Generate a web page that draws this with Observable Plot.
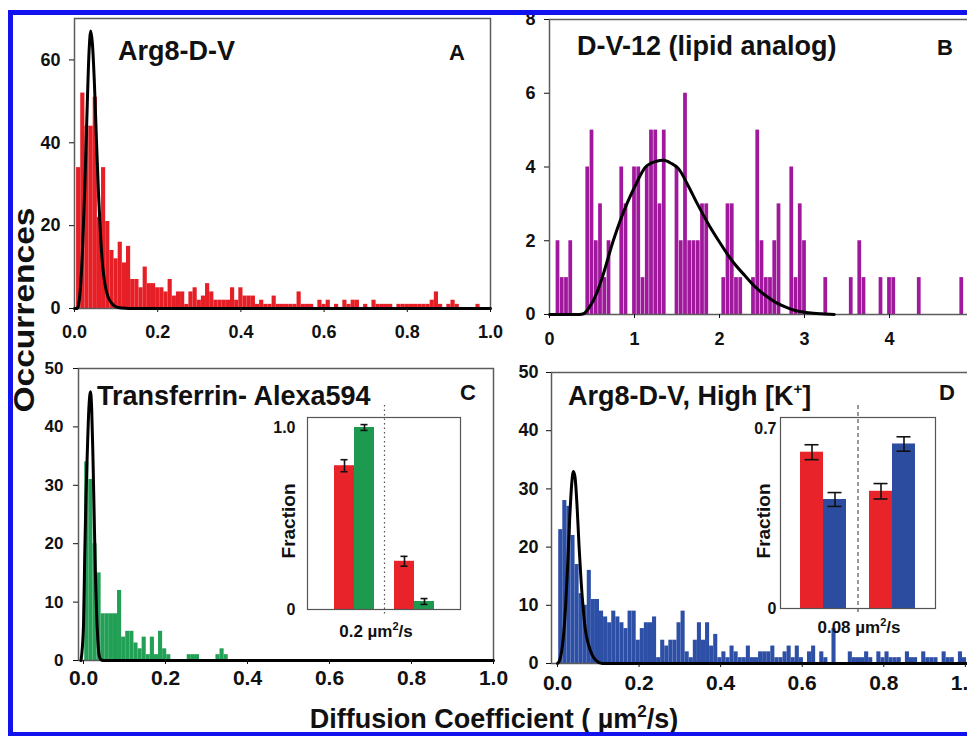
<!DOCTYPE html>
<html><head><meta charset="utf-8">
<script src="https://cdn.jsdelivr.net/npm/d3@7"></script>
<script src="https://cdn.jsdelivr.net/npm/@observablehq/plot@0.6"></script>
<style>
html,body{margin:0;padding:0;width:967px;height:736px;overflow:hidden;background:#fff;}
#root{position:relative;width:967px;height:736px;overflow:hidden;background:#fff;}
</style></head><body><div id="root"></div>
<script>
const FONT = '"Liberation Sans", Arial, Helvetica, sans-serif';

// ---------- Panel A: Arg8-D-V (bins of 0.01 µm²/s) ----------
const binWidthA = 0.01, firstBinA = 0.005;
const countsA = [34,52,44,44,51,22,34,21,14,12, 16,11,15,7,7,5,10,6,6,5, 5,4,7,3,4,4,1,4,5,2,
  3,6,4,2,2,2,2,5,2,5, 3,3,3,1,2,1,1,3,1,1, 1,1,1,4,1,1,1,0,2,1, 2,0,1,0,2,1,2,2,0,1,
  0,2,1,1,1,1,0,1,1,1, 1,1,1,1,1,2,4,1,0,1, 2,1,0,0,0,0,1,0,0,0];
const fitAx = [0,0.006,0.01,0.015,0.02,0.025,0.03,0.035,0.039,0.043,0.048,0.053,0.058,0.063,0.068,0.073,0.08,0.09,0.1,0.115,0.13,1.0];
const fitAy = [0,0,1,6,16,30,47,62,67,64,54,40,27,17,10,6,3,1.2,0.4,0.1,0,0];

// ---------- Panel B: D-V-12 (lipid analog) (bins of 0.05, centred) ----------
const binWidthB = 0.05, firstBinB = -0.025;
const countsB = [0,0,2,1,1,2,0,0,0,4, 5,2,3,1,2,0,0,4,3,0, 4,4,1,4,5,5,3,5,0,0,
  4,2,6,2,2,2,3,3,0,0, 0,1,3,3,1,1,0,0,1,5, 2,1,1,2,3,0,0,4,1,3, 2,0,0,0,0,1,0,0,0,0,
  0,1,0,2,1,0,0,0,1,0, 1,1,0,0,0,0,0,1,0,0, 0,0,0,0,0,0,0,1,0,0];
const fitBx = [0,0.35,0.4,0.47,0.55,0.62,0.75,0.91,1.0,1.13,1.25,1.34,1.43,1.52,1.63,1.74,1.87,1.99,2.15,2.3,2.42,2.55,2.66,2.78,2.89,3.05,3.2,3.35];
const fitBy = [0,0,0.02,0.2,0.55,1.0,2.0,3.0,3.45,4.0,4.15,4.18,4.1,3.95,3.5,3.0,2.45,2.0,1.45,1.05,0.75,0.5,0.33,0.2,0.11,0.05,0.02,0];

// ---------- Panel C: Transferrin-Alexa594 ----------
const binWidthC = 0.01, firstBinC = 0.003;
const countsC = [34,31,20,15,8,8,8,8,12,4, 5,5,3,2,4,1,4,1,5,2, 1,0,0,0,0,1,1,1,0,0, 0,0,1,2,1];
const fitCx = [-0.006,0,0.003,0.006,0.009,0.013,0.017,0.02,0.023,0.026,0.029,0.032,0.035,0.038,0.042,0.048,1.0];
const fitCy = [0,6,18,28,35,43,46,43,35,25,15,8,3.5,1,0.2,0,0];

// ---------- Panel D: Arg8-D-V, High [K+] ----------
const binWidthD = 0.01, firstBinD = 0.003;
const countsD = [23,28,27,22,17,12,10,16,11,11, 9,8,7,9,8,7,6,9,9,4, 6,7,7,8,1,4,3,4,4,7,
  9,2,1,4,7,4,7,3,5,1, 2,1,3,2,1,1,3,1,1,2, 2,2,3,1,1,2,3,1,3,1, 0,2,3,0,2,1,0,6,0,0,
  0,2,1,1,1,2,1,0,2,1, 2,1,1,1,0,2,1,1,0,2, 1,1,1,0,2,1,1,0,2,1];
const fitDx = [0,0.005,0.01,0.015,0.02,0.025,0.03,0.035,0.039,0.043,0.048,0.053,0.058,0.063,0.068,0.075,0.085,0.095,0.11,1.02];
const fitDy = [0,0.5,2,5,10,17,25,31,33,32,27,20,14,9.5,6,3.5,1.5,0.5,0,0];

// ---------- Insets (fractions slower / faster than the threshold) ----------
const insetCgroups = ["Arg8-D-V, slow", "Transferrin, slow", "threshold", "Arg8-D-V, fast", "Transferrin, fast"];
const insetCvalues = [0.79, 1.00, null, 0.265, 0.044];
const insetCerrors = [0.033, 0.016, null, 0.027, 0.016];
const insetCcolors = ["#e8232a", "#1e9a50", null, "#e8232a", "#1e9a50"];

const insetDgroups = ["Arg8-D-V, slow", "High K+, slow", "threshold", "Arg8-D-V, fast", "High K+, fast"];
const insetDvalues = [0.608, 0.424, null, 0.456, 0.640];
const insetDerrors = [0.029, 0.027, null, 0.03, 0.028];
const insetDcolors = ["#e8232a", "#2c4ca0", null, "#e8232a", "#2c4ca0"];

const root = document.getElementById("root");
const fmt1 = d3.format(".1f");

function histRows(counts, first, w) {
  return counts.map((c, i) => ({x1: first + i * w, x2: first + (i + 1) * w, c})).filter(d => d.c > 0);
}
function curveRows(xs, ys) { return xs.map((x, i) => ({x, y: ys[i]})); }

function place(svg, left, top) {
  svg.style.position = "absolute";
  svg.style.left = left + "px";
  svg.style.top = top + "px";
  svg.style.maxWidth = "none";
  root.append(svg);
}

function panel(o) {
  const svg = Plot.plot({
    width: o.width, height: o.height,
    marginLeft: o.ml, marginRight: o.mr, marginTop: o.mt, marginBottom: o.mb,
    style: {background: "transparent", overflow: "visible", fontFamily: FONT, fontWeight: "bold", color: "#111"},
    x: {domain: o.xDomain},
    y: {domain: o.yDomain},
    marks: [
      Plot.rectY(o.rows, {x1: "x1", x2: "x2", y1: 0, y2: "c", fill: o.fill, insetLeft: o.inset, insetRight: o.inset}),
      Plot.frame({stroke: "#5c5c5c", strokeWidth: 1.5}),
      Plot.line(o.curve, {x: "x", y: "y", stroke: "#000", strokeWidth: 3, curve: "monotone-x"}),
      Plot.axisX({ticks: o.xTicks, tickFormat: o.xFmt, tickSize: 4, tickPadding: o.xPad, fontSize: o.xFont, fontWeight: "bold", label: null}),
      Plot.axisY({ticks: o.yTicks, tickFormat: d3.format("d"), tickSize: 5, tickPadding: o.yPad, fontSize: o.yFont, fontWeight: "bold", label: null})
    ]
  });
  place(svg, o.left, o.top);
}

// C and D first (bottom row), then A and B
panel({left: 0, top: 330, width: 500, height: 370, ml: 78, mr: 7, mt: 38, mb: 40,
  xDomain: [-0.0122, 1.0], yDomain: [0, 50], xTicks: [0, 0.2, 0.4, 0.6, 0.8, 1.0], xFmt: fmt1,
  yTicks: [0, 10, 20, 30, 40, 50], xPad: 6, yPad: 10, xFont: 21, yFont: 17,
  rows: histRows(countsC, firstBinC, binWidthC), fill: "#22a055", inset: 0,
  curve: curveRows(fitCx, fitCy)});

panel({left: 490, top: 330, width: 500, height: 370, ml: 61, mr: 17, mt: 42, mb: 37,
  xDomain: [-0.0147, 1.02], yDomain: [0, 50], xTicks: [0, 0.2, 0.4, 0.6, 0.8, 1.0], xFmt: fmt1,
  yTicks: [0, 10, 20, 30, 40, 50], xPad: 8, yPad: 8, xFont: 21, yFont: 18,
  rows: histRows(countsD, firstBinD, binWidthD), fill: "#2d4fa6", inset: 0,
  curve: curveRows(fitDx, fitDy)});

panel({left: 0, top: 0, width: 500, height: 350, ml: 74, mr: 10, mt: 18, mb: 42,
  xDomain: [0, 1], yDomain: [0, 70], xTicks: [0, 0.2, 0.4, 0.6, 0.8, 1.0], xFmt: fmt1,
  yTicks: [0, 20, 40, 60], xPad: 13, yPad: 9, xFont: 18, yFont: 18,
  rows: histRows(countsA, firstBinA, binWidthA), fill: "#e61e25", inset: 0,
  curve: curveRows(fitAx, fitAy)});

panel({left: 490, top: 0, width: 500, height: 350, ml: 59, mr: 16, mt: 19, mb: 36,
  xDomain: [0, 5], yDomain: [0, 8], xTicks: [0, 1, 2, 3, 4, 5], xFmt: d3.format("d"),
  yTicks: [0, 2, 4, 6, 8], xPad: 14, yPad: 9, xFont: 18, yFont: 18,
  rows: histRows(countsB, firstBinB, binWidthB), fill: "#a0199c", inset: 0.25,
  curve: curveRows(fitBx, fitBy)});

function insetPlot(o) {
  const rows = o.groups.map((g, i) => ({g, v: o.values[i], e: o.errors[i], col: o.colors[i]})).filter(d => d.v != null);
  const svg = Plot.plot({
    width: o.width, height: o.height,
    marginLeft: o.ml, marginRight: o.mr, marginTop: o.mt, marginBottom: o.mb,
    style: {background: "transparent", overflow: "visible", fontFamily: FONT, fontWeight: "bold", color: "#111"},
    x: {type: "band", domain: o.groups, paddingInner: 0, paddingOuter: o.pad, axis: null},
    y: {domain: o.yDomain},
    color: {type: "identity"},
    marks: [
      Plot.barY(rows, {x: "g", y1: 0, y2: "v", fill: "col"}),
      Plot.ruleX([o.groups[2]], {stroke: "#555", strokeWidth: 1.2, strokeDasharray: o.dash, insetTop: -12, insetBottom: -5}),
      Plot.ruleX(rows, {x: "g", y1: d => d.v - d.e, y2: d => d.v + d.e, stroke: "#111", strokeWidth: 1.6}),
      Plot.tickY(rows, {x: "g", y: d => d.v + d.e, stroke: "#111", strokeWidth: 1.6, inset: o.capInset}),
      Plot.tickY(rows, {x: "g", y: d => d.v - d.e, stroke: "#111", strokeWidth: 1.6, inset: o.capInset}),
      Plot.frame({stroke: "#555", strokeWidth: 1.2}),
      Plot.axisY({ticks: o.yTicks, tickFormat: o.yFmt, tickSize: 0, tickPadding: o.yPad, fontSize: 16, fontWeight: "bold", label: null})
    ]
  });
  place(svg, o.left, o.top);
}

insetPlot({left: 270, top: 405, width: 200, height: 214, ml: 37, mr: 10, mt: 12, mb: 10,
  groups: insetCgroups, values: insetCvalues, errors: insetCerrors, colors: insetCcolors,
  pad: 1.15, yDomain: [0, 1.055], yTicks: [0, 1], yFmt: d => d === 0 ? "0" : "1.0", yPad: 12,
  dash: "1.5,3", capInset: 6.5});

insetPlot({left: 740, top: 405, width: 205, height: 213, ml: 40, mr: 10, mt: 12, mb: 10,
  groups: insetDgroups, values: insetDvalues, errors: insetDerrors, colors: insetDcolors,
  pad: 0.73, yDomain: [0, 0.743], yTicks: [0, 0.7], yFmt: d => d === 0 ? "0" : "0.7", yPad: 4,
  dash: "4,3", capInset: 4.5});

// ---------- overlay: titles, labels and the blue border ----------
const ov = d3.create("svg").attr("width", 967).attr("height", 736)
  .style("position", "absolute").style("left", "0px").style("top", "0px")
  .style("font-family", FONT).style("font-weight", "bold").style("fill", "#111");

function txt(x, y, s, size, anchor = "start") {
  return ov.append("text").attr("x", x).attr("y", y).attr("font-size", size).attr("text-anchor", anchor).text(s);
}
txt(118, 60, "Arg8-D-V", 27);
txt(457, 60, "A", 22, "middle");
txt(577, 55, "D-V-12 (lipid analog)", 27);
txt(945, 55, "B", 22, "middle");
txt(97, 405, "Transferrin- Alexa594", 27);
txt(468, 400, "C", 22, "middle");
const tD = txt(568, 405, "Arg8-D-V, High [K", 27);
tD.append("tspan").attr("font-size", 15).attr("dy", -11).text("+");
tD.append("tspan").attr("dy", 11).text("]");
txt(947, 400, "D", 22, "middle");

// inset labels
ov.append("text").attr("transform", "translate(295,521) rotate(-90)").attr("text-anchor", "middle").attr("font-size", 19).text("Fraction");
ov.append("text").attr("transform", "translate(770,521) rotate(-90)").attr("text-anchor", "middle").attr("font-size", 19).text("Fraction");
const l1 = txt(376, 637, "0.2 µm", 17, "middle");
l1.append("tspan").attr("font-size", 11).attr("dy", -7).text("2");
l1.append("tspan").attr("dy", 7).text("/s");
const l2 = txt(859, 633, "0.08 µm", 17, "middle");
l2.append("tspan").attr("font-size", 11).attr("dy", -7).text("2");
l2.append("tspan").attr("dy", 7).text("/s");

// axis titles
ov.append("text").attr("transform", "translate(34,310) rotate(-90)").attr("text-anchor", "middle")
  .attr("font-size", 30).attr("textLength", 205).attr("lengthAdjust", "spacingAndGlyphs").text("Occurrences");
const xl = ov.append("text").attr("x", 494).attr("y", 728).attr("text-anchor", "middle").attr("font-size", 27);
xl.append("tspan").text("Diffusion Coefficient ( µm");
xl.append("tspan").attr("font-size", 17).attr("dy", -11).text("2");
xl.append("tspan").attr("dy", 11).text("/s)");

// blue frame around the figure
ov.append("rect").attr("x", 0).attr("y", 0).attr("width", 967).attr("height", 10).attr("fill", "#fff");
ov.append("rect").attr("x", 0).attr("y", 0).attr("width", 8).attr("height", 736).attr("fill", "#fff");
ov.append("rect").attr("x", 8).attr("y", 10).attr("width", 959).attr("height", 5).attr("fill", "#1212ee");
ov.append("rect").attr("x", 8).attr("y", 10).attr("width", 5).attr("height", 726).attr("fill", "#1212ee");
ov.append("rect").attr("x", 8).attr("y", 732).attr("width", 959).attr("height", 4).attr("fill", "#1212ee");

root.append(ov.node());
</script></body></html>
